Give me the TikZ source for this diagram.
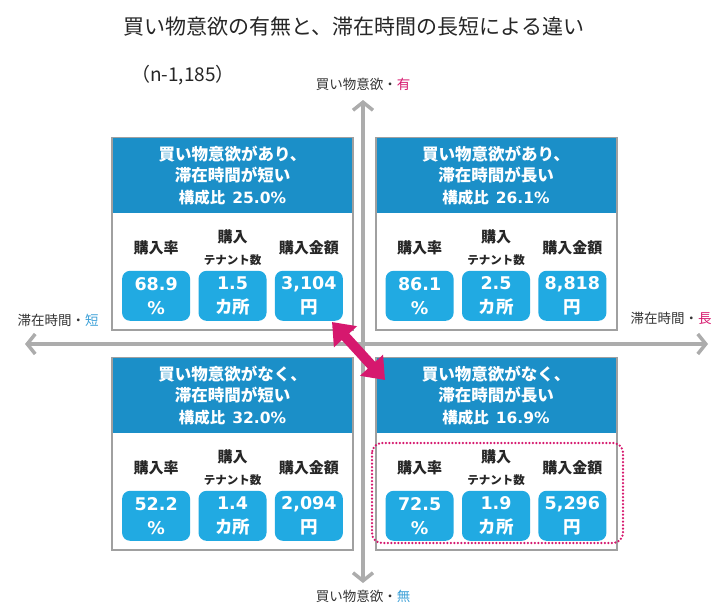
\documentclass[tikz,border=0pt]{standalone}
\usepackage{fontspec}
\setmainfont{Noto Sans CJK JP}
\newfontfamily\numfont{DejaVu Sans}
\usetikzlibrary{arrows.meta}
\usetikzlibrary{positioning}
\definecolor{headblue}{RGB}{27,143,200}
\definecolor{pillblue}{RGB}{33,170,226}
\definecolor{boxgrey}{RGB}{160,160,160}
\definecolor{axisgrey}{RGB}{172,172,172}
\definecolor{hotpink}{RGB}{214,24,110}
\definecolor{lowblue}{RGB}{60,160,215}

\begin{document}
\begin{tikzpicture}[x=1pt,y=-1pt,
	quad/.style={draw=boxgrey,line width=2pt,fill=white,minimum width=241pt,minimum height=192pt,inner sep=0pt},
	head/.style={fill=headblue,minimum width=239pt,minimum height=75pt,inner sep=0pt,text=white,align=center,font=\bfseries\fontsize{16.5}{21}\selectfont},
	colhead/.style={minimum height=36pt,inner sep=0pt,align=center,text=black!85,font=\bfseries\fontsize{15}{22}\selectfont},
	pill/.style={fill=pillblue,rounded corners=8pt,minimum width=68pt,minimum height=50pt,inner sep=0pt,text=white,align=center,font=\bfseries\fontsize{17.5}{24}\selectfont},
	axis/.style={draw=axisgrey,line width=3.5pt,{Straight Barb[length=8pt,width=20pt]}-{Straight Barb[length=8pt,width=20pt]}},
	axlabel/.style={font=\fontsize{13.5}{16}\selectfont,text=black!80},
	swaparrow/.style={draw=hotpink,line width=10pt,{Triangle[length=20pt,width=30pt]}-{Triangle[length=20pt,width=30pt]}},
	dotbox/.style={draw=hotpink,line width=2.5pt,dash pattern=on 0pt off 3.5pt,line cap=round,rounded corners=10pt}]
	\useasboundingbox (0,0) rectangle (718,608);

	\node[font=\fontsize{21}{24}\selectfont,text=black!85] (title) at (354,27) {買い物意欲の有無と、滞在時間の長短による違い};
	\node[font=\fontsize{19}{22}\selectfont,text=black!85] (count) at (183,75) {（n-1,185）};

	\coordinate (axt) at (363,100);
	\coordinate (axb) at (363,583);
	\coordinate (axl) at (25,344);
	\coordinate (axr) at (708,344);
	\draw[axis] (axb) -- (axt);
	\draw[axis] (axl) -- (axr);
	\node[axlabel,above=6pt of axt] (wantlbl) {買い物意欲・{\color{hotpink}有}};
	\node[axlabel,below=4pt of axb] (nowantlbl) {買い物意欲・{\color{lowblue}無}};
	\node[axlabel] (shortlbl) at (58,320) {滞在時間・{\color{lowblue}短}};
	\node[axlabel] (longlbl) at (671,318) {滞在時間・{\color{hotpink}長}};

	\node[quad] (tl) at (232.5,234) {};
	\node[head,below=1pt of tl.north] (tlhead) {買い物意欲があり、\\滞在時間が短い\\[1pt]{\fontsize{15.5}{18}\selectfont 構成比\ \ {\numfont 25.0\%}}};
	\node[pill,above=10pt of tl.south] (tlcnt) {{\numfont 1.5}\\カ所};
	\node[pill,left=8pt of tlcnt] (tlrate) {{\numfont 68.9}\\{\numfont\%}};
	\node[pill,right=8pt of tlcnt] (tlsum) {{\numfont 3,104}\\円};
	\node[colhead,above=5pt of tlrate] (tlrateh) {購入率};
	\node[colhead,above=5pt of tlcnt] (tlcnth) {購入\\{\fontsize{11.5}{13}\selectfont テナント数}};
	\node[colhead,above=5pt of tlsum] (tlsumh) {購入金額};

	\node[quad] (tr) at (496,234) {};
	\node[head,below=1pt of tr.north] (trhead) {買い物意欲があり、\\滞在時間が長い\\[1pt]{\fontsize{15.5}{18}\selectfont 構成比\ \ {\numfont 26.1\%}}};
	\node[pill,above=10pt of tr.south] (trcnt) {{\numfont 2.5}\\カ所};
	\node[pill,left=8pt of trcnt] (trrate) {{\numfont 86.1}\\{\numfont\%}};
	\node[pill,right=8pt of trcnt] (trsum) {{\numfont 8,818}\\円};
	\node[colhead,above=5pt of trrate] (trrateh) {購入率};
	\node[colhead,above=5pt of trcnt] (trcnth) {購入\\{\fontsize{11.5}{13}\selectfont テナント数}};
	\node[colhead,above=5pt of trsum] (trsumh) {購入金額};

	\node[quad] (bl) at (232.5,454) {};
	\node[head,below=1pt of bl.north] (blhead) {買い物意欲がなく、\\滞在時間が短い\\[1pt]{\fontsize{15.5}{18}\selectfont 構成比\ \ {\numfont 32.0\%}}};
	\node[pill,above=10pt of bl.south] (blcnt) {{\numfont 1.4}\\カ所};
	\node[pill,left=8pt of blcnt] (blrate) {{\numfont 52.2}\\{\numfont\%}};
	\node[pill,right=8pt of blcnt] (blsum) {{\numfont 2,094}\\円};
	\node[colhead,above=5pt of blrate] (blrateh) {購入率};
	\node[colhead,above=5pt of blcnt] (blcnth) {購入\\{\fontsize{11.5}{13}\selectfont テナント数}};
	\node[colhead,above=5pt of blsum] (blsumh) {購入金額};

	\node[quad] (br) at (496,454) {};
	\node[head,below=1pt of br.north] (brhead) {買い物意欲がなく、\\滞在時間が長い\\[1pt]{\fontsize{15.5}{18}\selectfont 構成比\ \ {\numfont 16.9\%}}};
	\node[pill,above=10pt of br.south] (brcnt) {{\numfont 1.9}\\カ所};
	\node[pill,left=8pt of brcnt] (brrate) {{\numfont 72.5}\\{\numfont\%}};
	\node[pill,right=8pt of brcnt] (brsum) {{\numfont 5,296}\\円};
	\node[colhead,above=5pt of brrate] (brrateh) {購入率};
	\node[colhead,above=5pt of brcnt] (brcnth) {購入\\{\fontsize{11.5}{13}\selectfont テナント数}};
	\node[colhead,above=5pt of brsum] (brsumh) {購入金額};
	\draw[dotbox] (372,443) rectangle (623,543);

	\coordinate (pa) at (332,322);
	\coordinate (pb) at (385,380);
	\draw[swaparrow] (pa) -- (pb);
\end{tikzpicture}
\end{document}
